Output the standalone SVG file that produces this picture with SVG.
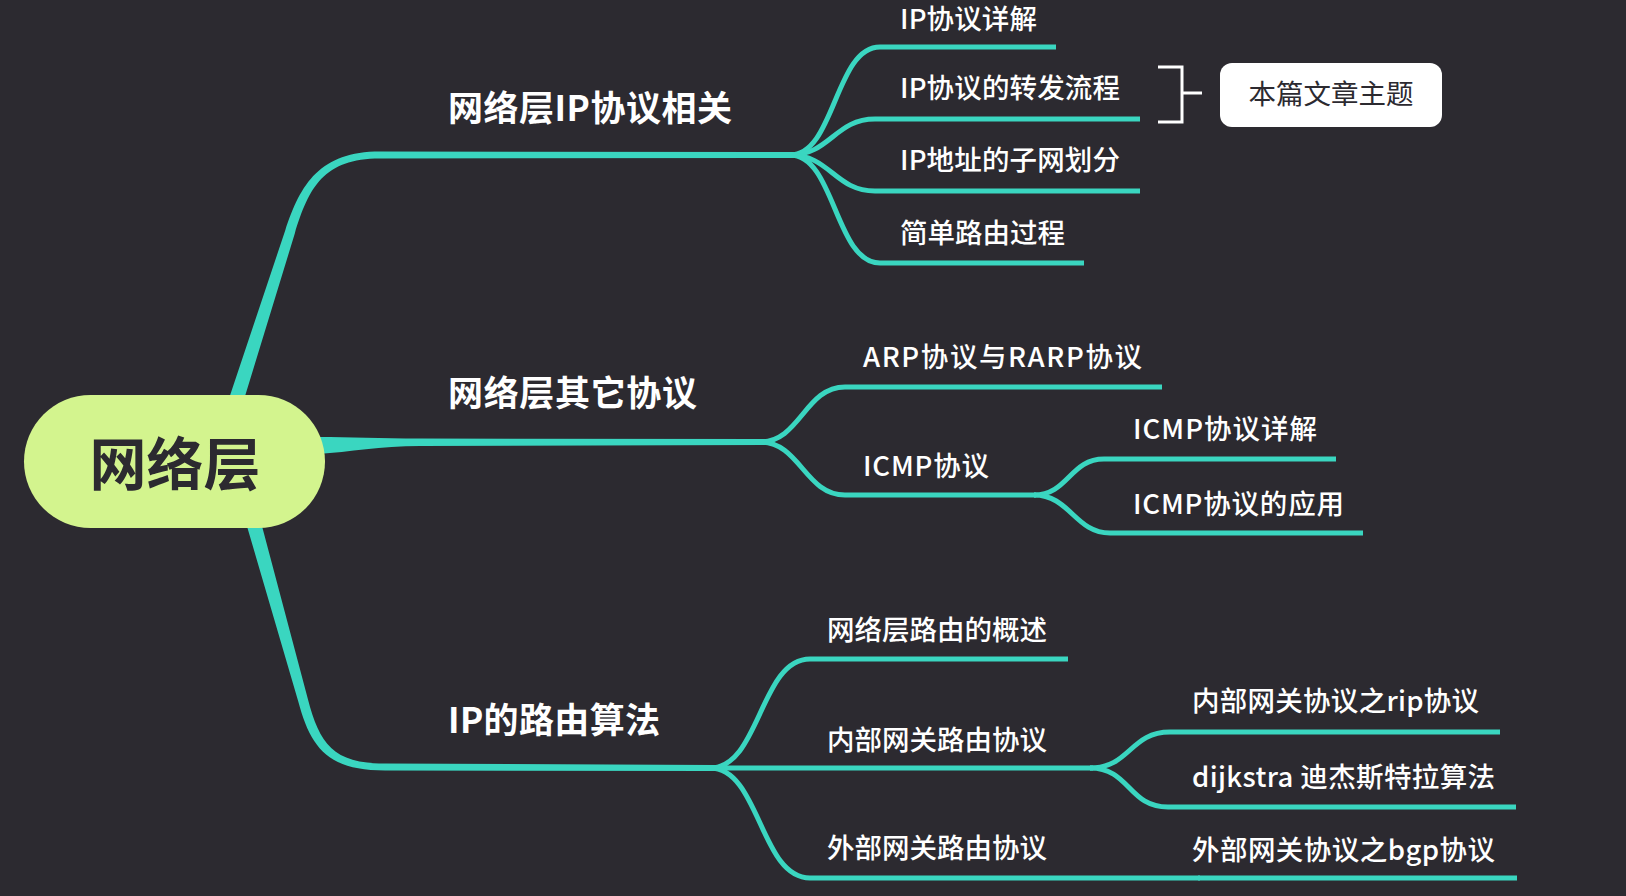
<svg xmlns="http://www.w3.org/2000/svg" width="1626" height="896" viewBox="0 0 1626 896">
<style>
.l1{font-family:"Noto Sans CJK SC","Noto Sans",sans-serif;font-size:35px;font-weight:700;fill:#ffffff}
.l2{font-family:"Noto Sans CJK SC","Noto Sans",sans-serif;font-size:27.5px;font-weight:500;fill:#ffffff}
.br{fill:#3ad6c0}
.ln{fill:none;stroke:#3ad6c0;stroke-width:5;stroke-linecap:butt}
</style>
<rect width="1626" height="896" fill="#2c2a30"/>
<g id="connectors">
  <path class="br" d="M225.9,407.7 L285.2,230.5 C300.7,183.6 320,151.5 380,151.5 L795,152 L795,158 L380,158.5 C324,158.5 309,187 294.8,233.5 L240.1,412.3 Z"/>
  <path class="br" d="M318,437 C350,437 380,438.5 420,438.5 L765,439 L765,445 L420,446 C380,446 350,452 318,454 Z"/>
  <path class="br" d="M242.8,512 L298.2,701.3 C310.5,747 327,770.5 385,770.5 L715,771 L715,765 L385,763.5 C333,763.5 319.5,743.7 307.8,698.7 L257.2,508 Z"/>
  <path class="ln" d="M790,155 C835,155 835,47 880,47 L1056,47"/>
  <path class="ln" d="M790,155 C830,155 835,119 875,119 L1140,119"/>
  <path class="ln" d="M790,155 C830,155 835,191 875,191 L1140,191"/>
  <path class="ln" d="M790,155 C835,155 835,263 880,263 L1084,263"/>
  <path class="ln" d="M760,442 C800,442 805,387 845,387 L1162,387"/>
  <path class="ln" d="M760,442 C800,442 805,495 845,495 L1036,495"/>
  <path class="ln" d="M1034,495 C1068,495 1070,459 1104,459 L1336,459"/>
  <path class="ln" d="M1034,495 C1070,495 1075,533 1110,533 L1363,533"/>
  <path class="ln" d="M710,768 C760,768 760,659 810,659 L1068,659"/>
  <path class="ln" d="M710,768 L1093,768"/>
  <path class="ln" d="M710,768 C760,768 760,878 810,878 L1200,878"/>
  <path class="ln" d="M1090,768 C1130,768 1130,732 1170,732 L1500,732"/>
  <path class="ln" d="M1090,768 C1130,768 1128,807 1168,807 L1516,807"/>
  <path class="ln" d="M1198,878 L1517,878"/>
  <path d="M1158,67 H1182 V122 H1158 M1182,93 H1202" fill="none" stroke="#ffffff" stroke-width="3"/>
</g>
<g id="root">
  <rect x="24" y="395" width="301" height="133" rx="66.5" fill="#d3f48e"/>
  <text x="175" y="485" text-anchor="middle" font-family="'Noto Sans CJK SC',sans-serif" font-size="57" font-weight="700" fill="#2c2a30">网络层</text>
</g>
<g id="n-ip"><text class="l1" x="448" y="121" textLength="284" lengthAdjust="spacing">网络层IP协议相关</text></g>
<g id="n-other"><text class="l1" x="448" y="406" textLength="249" lengthAdjust="spacing">网络层其它协议</text></g>
<g id="n-route"><text class="l1" x="448" y="733" textLength="212" lengthAdjust="spacing">IP的路由算法</text></g>
<g id="n-ip1"><text class="l2" x="900" y="29" textLength="137" lengthAdjust="spacing">IP协议详解</text></g>
<g id="n-ip2"><text class="l2" x="900" y="98" textLength="220" lengthAdjust="spacing">IP协议的转发流程</text></g>
<g id="n-ip3"><text class="l2" x="900" y="170" textLength="220" lengthAdjust="spacing">IP地址的子网划分</text></g>
<g id="n-ip4"><text class="l2" x="900" y="243">简单路由过程</text></g>
<g id="n-topic">
  <rect x="1220" y="63" width="222" height="64" rx="12" fill="#ffffff"/>
  <text x="1331" y="104" text-anchor="middle" font-family="'Noto Sans CJK SC',sans-serif" font-size="27.5" fill="#2c2a30">本篇文章主题</text>
</g>
<g id="n-arp"><text class="l2" x="863" y="367" textLength="279" lengthAdjust="spacing">ARP协议与RARP协议</text></g>
<g id="n-icmp"><text class="l2" x="863" y="476" textLength="126" lengthAdjust="spacing">ICMP协议</text></g>
<g id="n-icmp1"><text class="l2" x="1133" y="439" textLength="184" lengthAdjust="spacing">ICMP协议详解</text></g>
<g id="n-icmp2"><text class="l2" x="1133" y="514" textLength="211" lengthAdjust="spacing">ICMP协议的应用</text></g>
<g id="n-r1"><text class="l2" x="827" y="640">网络层路由的概述</text></g>
<g id="n-r2"><text class="l2" x="827" y="750">内部网关路由协议</text></g>
<g id="n-r3"><text class="l2" x="827" y="858">外部网关路由协议</text></g>
<g id="n-rip"><text class="l2" x="1192" y="711" textLength="287" lengthAdjust="spacing">内部网关协议之rip协议</text></g>
<g id="n-dij"><text class="l2" x="1192" y="787" textLength="303" lengthAdjust="spacing">dijkstra 迪杰斯特拉算法</text></g>
<g id="n-bgp"><text class="l2" x="1192" y="860" textLength="303" lengthAdjust="spacing">外部网关协议之bgp协议</text></g>
</svg>
